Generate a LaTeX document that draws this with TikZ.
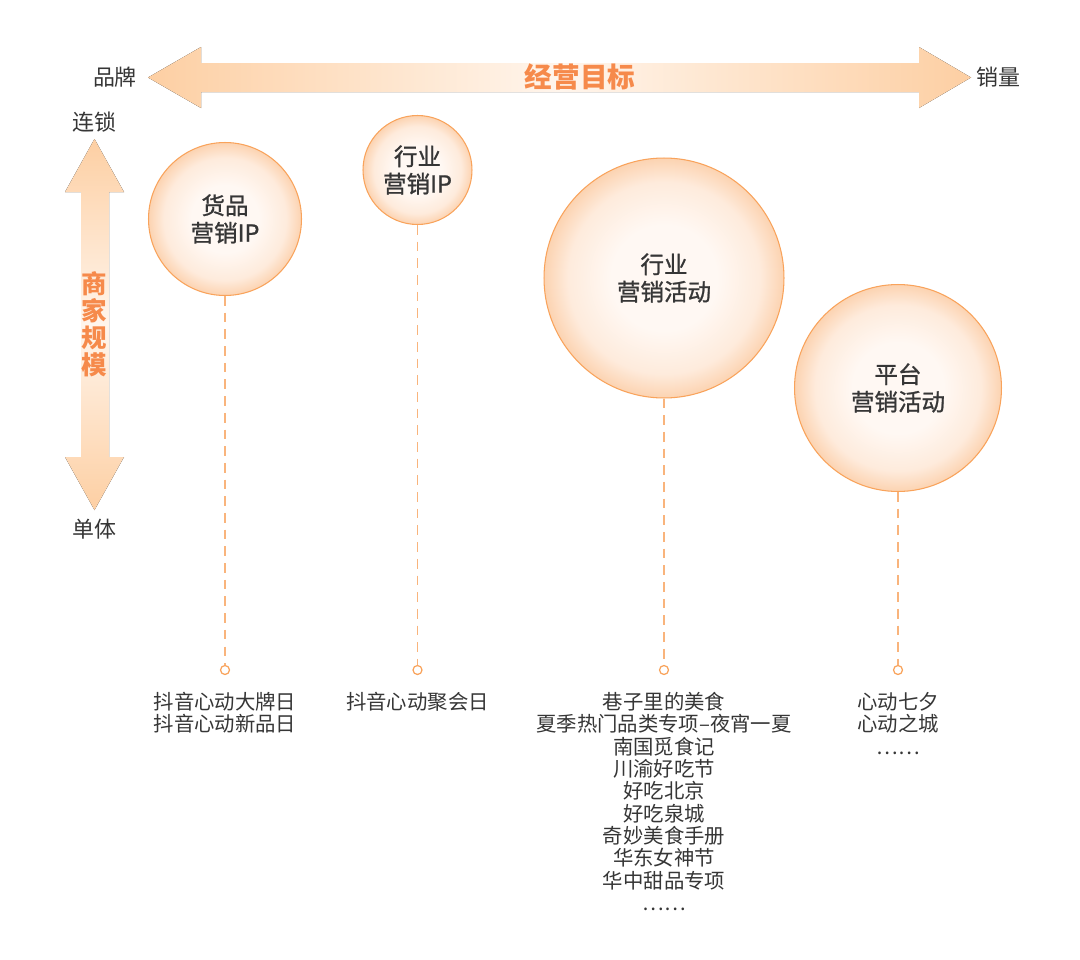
\documentclass[tikz,border=0pt]{standalone}
\usepackage{fontspec}
\setmainfont{Noto Sans CJK SC}
\newfontfamily\ballfont{Noto Sans CJK SC}[FakeBold=1]
\definecolor{txt}{HTML}{363636}
\definecolor{ttl}{HTML}{F68A4B}
\definecolor{arrend}{HTML}{FDCFA3}
\definecolor{arrmid}{HTML}{FFF5EC}
\definecolor{ballin}{HTML}{FFF8F3}
\definecolor{ballmid}{HTML}{FEEBDC}
\definecolor{ballout}{HTML}{FCD3B1}
\definecolor{ballline}{HTML}{F9A35B}
\definecolor{dashc}{HTML}{F9B47C}
\pgfdeclareradialshading{ballshade}{\pgfpointorigin}{color(0bp)=(ballin); color(11bp)=(ballin); color(20bp)=(ballmid); color(25bp)=(ballout); color(50bp)=(ballout)}
\tikzset{
  lbl/.style={text=txt, font=\fontsize{12.5}{14}\selectfont, inner sep=0pt},
  ttlfont/.style={text=ttl, font=\bfseries\fontsize{15.7}{18}\selectfont, inner sep=0pt},
  ball/.style={circle, draw=ballline, line width=0.6pt, shade, shading=ballshade, inner sep=0pt, text=txt, align=center, font=\ballfont\fontsize{13.4}{15.6}\selectfont},
  dot/.style={circle, draw=ballline, fill=white, line width=0.7pt, minimum size=0.18cm, inner sep=0pt},
  stem/.style={draw=dashc, dash pattern=on 5.5pt off 4pt, line width=0.75pt},
  list/.style={anchor=north, text=txt, align=center, inner sep=0pt, font=\fontsize{11.6}{12.7}\selectfont}
}
\begin{document}
\begin{tikzpicture}[x=0.02cm, y=-0.02cm]
\useasboundingbox[fill=white] (0,0) rectangle (1080,960);
% horizontal arrow
\fill[left color=arrend, right color=arrend, middle color=arrmid]
  (148,77.5) -- (201,47) -- (201,63) -- (919,63) -- (919,47) -- (971,77.5)
  -- (919,108) -- (919,92) -- (201,92) -- (201,108) -- cycle;
% vertical arrow
\fill[top color=arrend, bottom color=arrend, middle color=arrmid]
  (94.5,139) -- (124,192) -- (109,192) -- (109,457) -- (124,457) -- (94.5,510)
  -- (65,457) -- (81,457) -- (81,192) -- (65,192) -- cycle;
\node[lbl] (brand) at (115,77) {品牌};
\node[lbl] (sales) at (998,77) {销量};
\node[ttlfont] (goal) at (580,77) {经营目标};
\node[lbl] (chain) at (94.5,122) {连锁};
\node[lbl] (single) at (94.5,529) {单体};
\node[ttlfont, align=center, font=\bfseries\fontsize{14.5}{15.3}\selectfont] (scale) at (94.5,324) {商\\家\\规\\模};
% circles
\node[ball, minimum size=3.06cm] (c1) at (225,219) {货品\\营销IP};
\node[ball, minimum size=2.18cm] (c2) at (417.5,170) {行业\\营销IP};
\node[ball, minimum size=4.8cm] (c3) at (664,278) {行业\\营销活动};
\node[ball, minimum size=4.14cm] (c4) at (898,388) {平台\\营销活动};
% dots
\node[dot] (d1) at (225,670) {};
\node[dot] (d2) at (417.5,670) {};
\node[dot] (d3) at (664,670) {};
\node[dot] (d4) at (898,670) {};
\draw[stem] (c1.south) -- (d1.north);
\draw[stem] (c2.south) -- (d2.north);
\draw[stem] (c3.south) -- (d3.north);
\draw[stem] (c4.south) -- (d4.north);
% lists
\node[list] (t1) at (225,692) {抖音心动大牌日\\抖音心动新品日};
\node[list] (t2) at (417.5,692) {抖音心动聚会日};
\node[list] (t3) at (664,692) {巷子里的美食\\夏季热门品类专项–夜宵一夏\\南国觅食记\\川渝好吃节\\好吃北京\\好吃泉城\\奇妙美食手册\\华东女神节\\华中甜品专项\\……};
\node[list] (t4) at (898,692) {心动七夕\\心动之城\\……};
\end{tikzpicture}
\end{document}
